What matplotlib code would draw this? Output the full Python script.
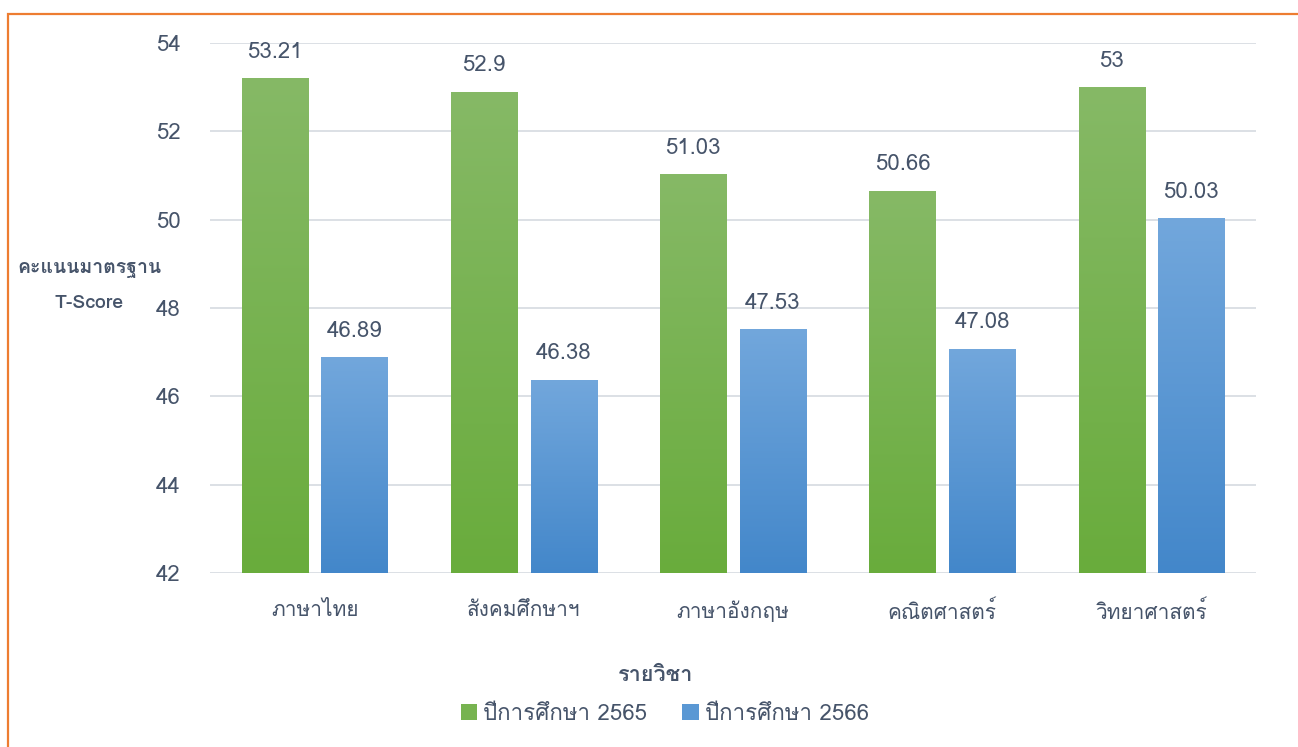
import numpy as np
import matplotlib
matplotlib.use("Agg")
import matplotlib.pyplot as plt
from matplotlib import font_manager
from matplotlib.ft2font import FT2Font
from matplotlib.patches import Patch, Rectangle
from matplotlib.colors import LinearSegmentedColormap

# data
subjects = ["ภาษาไทย", "สังคมศึกษาฯ", "ภาษาอังกฤษ", "คณิตศาสตร์", "วิทยาศาสตร์"]
score_2565 = [53.21, 52.9, 51.03, 50.66, 53]
score_2566 = [46.89, 46.38, 47.53, 47.08, 50.03]
label_2565 = ["53.21", "52.9", "51.03", "50.66", "53"]
label_2566 = ["46.89", "46.38", "47.53", "47.08", "50.03"]
series_names = ["ปีการศึกษา 2565", "ปีการศึกษา 2566"]
yticks = [42, 44, 46, 48, 50, 52, 54]

# find a font with Thai glyphs
thai_fam = None
for f in font_manager.fontManager.ttflist:
    try:
        if 0x0E01 in FT2Font(f.fname).get_charmap():
            thai_fam = f.name
            break
    except Exception:
        pass
fams = ([thai_fam] if thai_fam else []) + ["DejaVu Sans"]
plt.rcParams["font.family"] = fams

txt_color = "#46546A"
green_top, green_bot = "#86B966", "#69AC3C"
blue_top, blue_bot = "#72A7DC", "#4387CA"

fig = plt.figure(figsize=(12.98, 7.47), dpi=100)
ax = fig.add_axes([0.1618, 0.2329, 0.8059, 0.7095])

x = np.arange(len(subjects))
w = 0.316
off = 0.19


def grad_bars(xpos, vals, top, bot):
    bars = ax.bar(xpos, vals, width=w, bottom=0, color=bot, zorder=2)
    cmap = LinearSegmentedColormap.from_list("g", [bot, top])
    grad = np.linspace(0, 1, 256).reshape(-1, 1)
    for b in bars:
        x0 = b.get_x()
        im = ax.imshow(grad, extent=(x0, x0 + b.get_width(), 42, b.get_height()),
                       origin="lower", aspect="auto", cmap=cmap, zorder=3)
        im.set_clip_path(b)
    return bars


b1 = grad_bars(x - off, score_2565, green_top, green_bot)
b2 = grad_bars(x + off, score_2566, blue_top, blue_bot)

for bars, labs in [(b1, label_2565), (b2, label_2566)]:
    for b, lab in zip(bars, labs):
        ax.annotate(lab, (b.get_x() + b.get_width() / 2, b.get_height()),
                    xytext=(0, 11), textcoords="offset points", ha="center", va="bottom",
                    fontsize=16, color=txt_color)

ax.set_xlim(-0.5, 4.5)
ax.set_ylim(42, 54)
ax.set_yticks(yticks)
ax.set_xticks(x)
ax.set_xticklabels(subjects)
ax.tick_params(axis="y", length=0, pad=21, labelsize=16, labelcolor=txt_color)
ax.tick_params(axis="x", length=0, pad=20, labelsize=15, labelcolor=txt_color)
ax.grid(axis="y", color="#D9DDE3", linewidth=1.3, zorder=0)
ax.set_axisbelow(True)
for s in ax.spines.values():
    s.set_visible(False)

fig.text(0.069, 0.640, "คะแนนมาตรฐาน", ha="center", va="center",
         fontsize=14, fontweight="bold", color=txt_color)
fig.text(0.069, 0.595, "T-Score", ha="center", va="center",
         fontsize=14, fontweight="bold", color=txt_color)
fig.text(0.505, 0.096, "รายวิชา", ha="center", va="center",
         fontsize=15.5, fontweight="bold", color=txt_color)

handles = [Patch(facecolor="#77B350", label=series_names[0]),
           Patch(facecolor="#5A98D4", label=series_names[1])]
fig.legend(handles=handles, loc="center", bbox_to_anchor=(0.512, 0.044), ncol=2,
           frameon=False, fontsize=16, labelcolor=txt_color, handlelength=0.75,
           handleheight=0.75, handletextpad=0.25, columnspacing=1.6)

# orange outer border
fig.patches.append(Rectangle((0.0062, -0.05), 1.1, 1.0313, transform=fig.transFigure,
                             fill=False, edgecolor="#ED7D31", linewidth=1.6))

plt.savefig("out.png", dpi=100)
